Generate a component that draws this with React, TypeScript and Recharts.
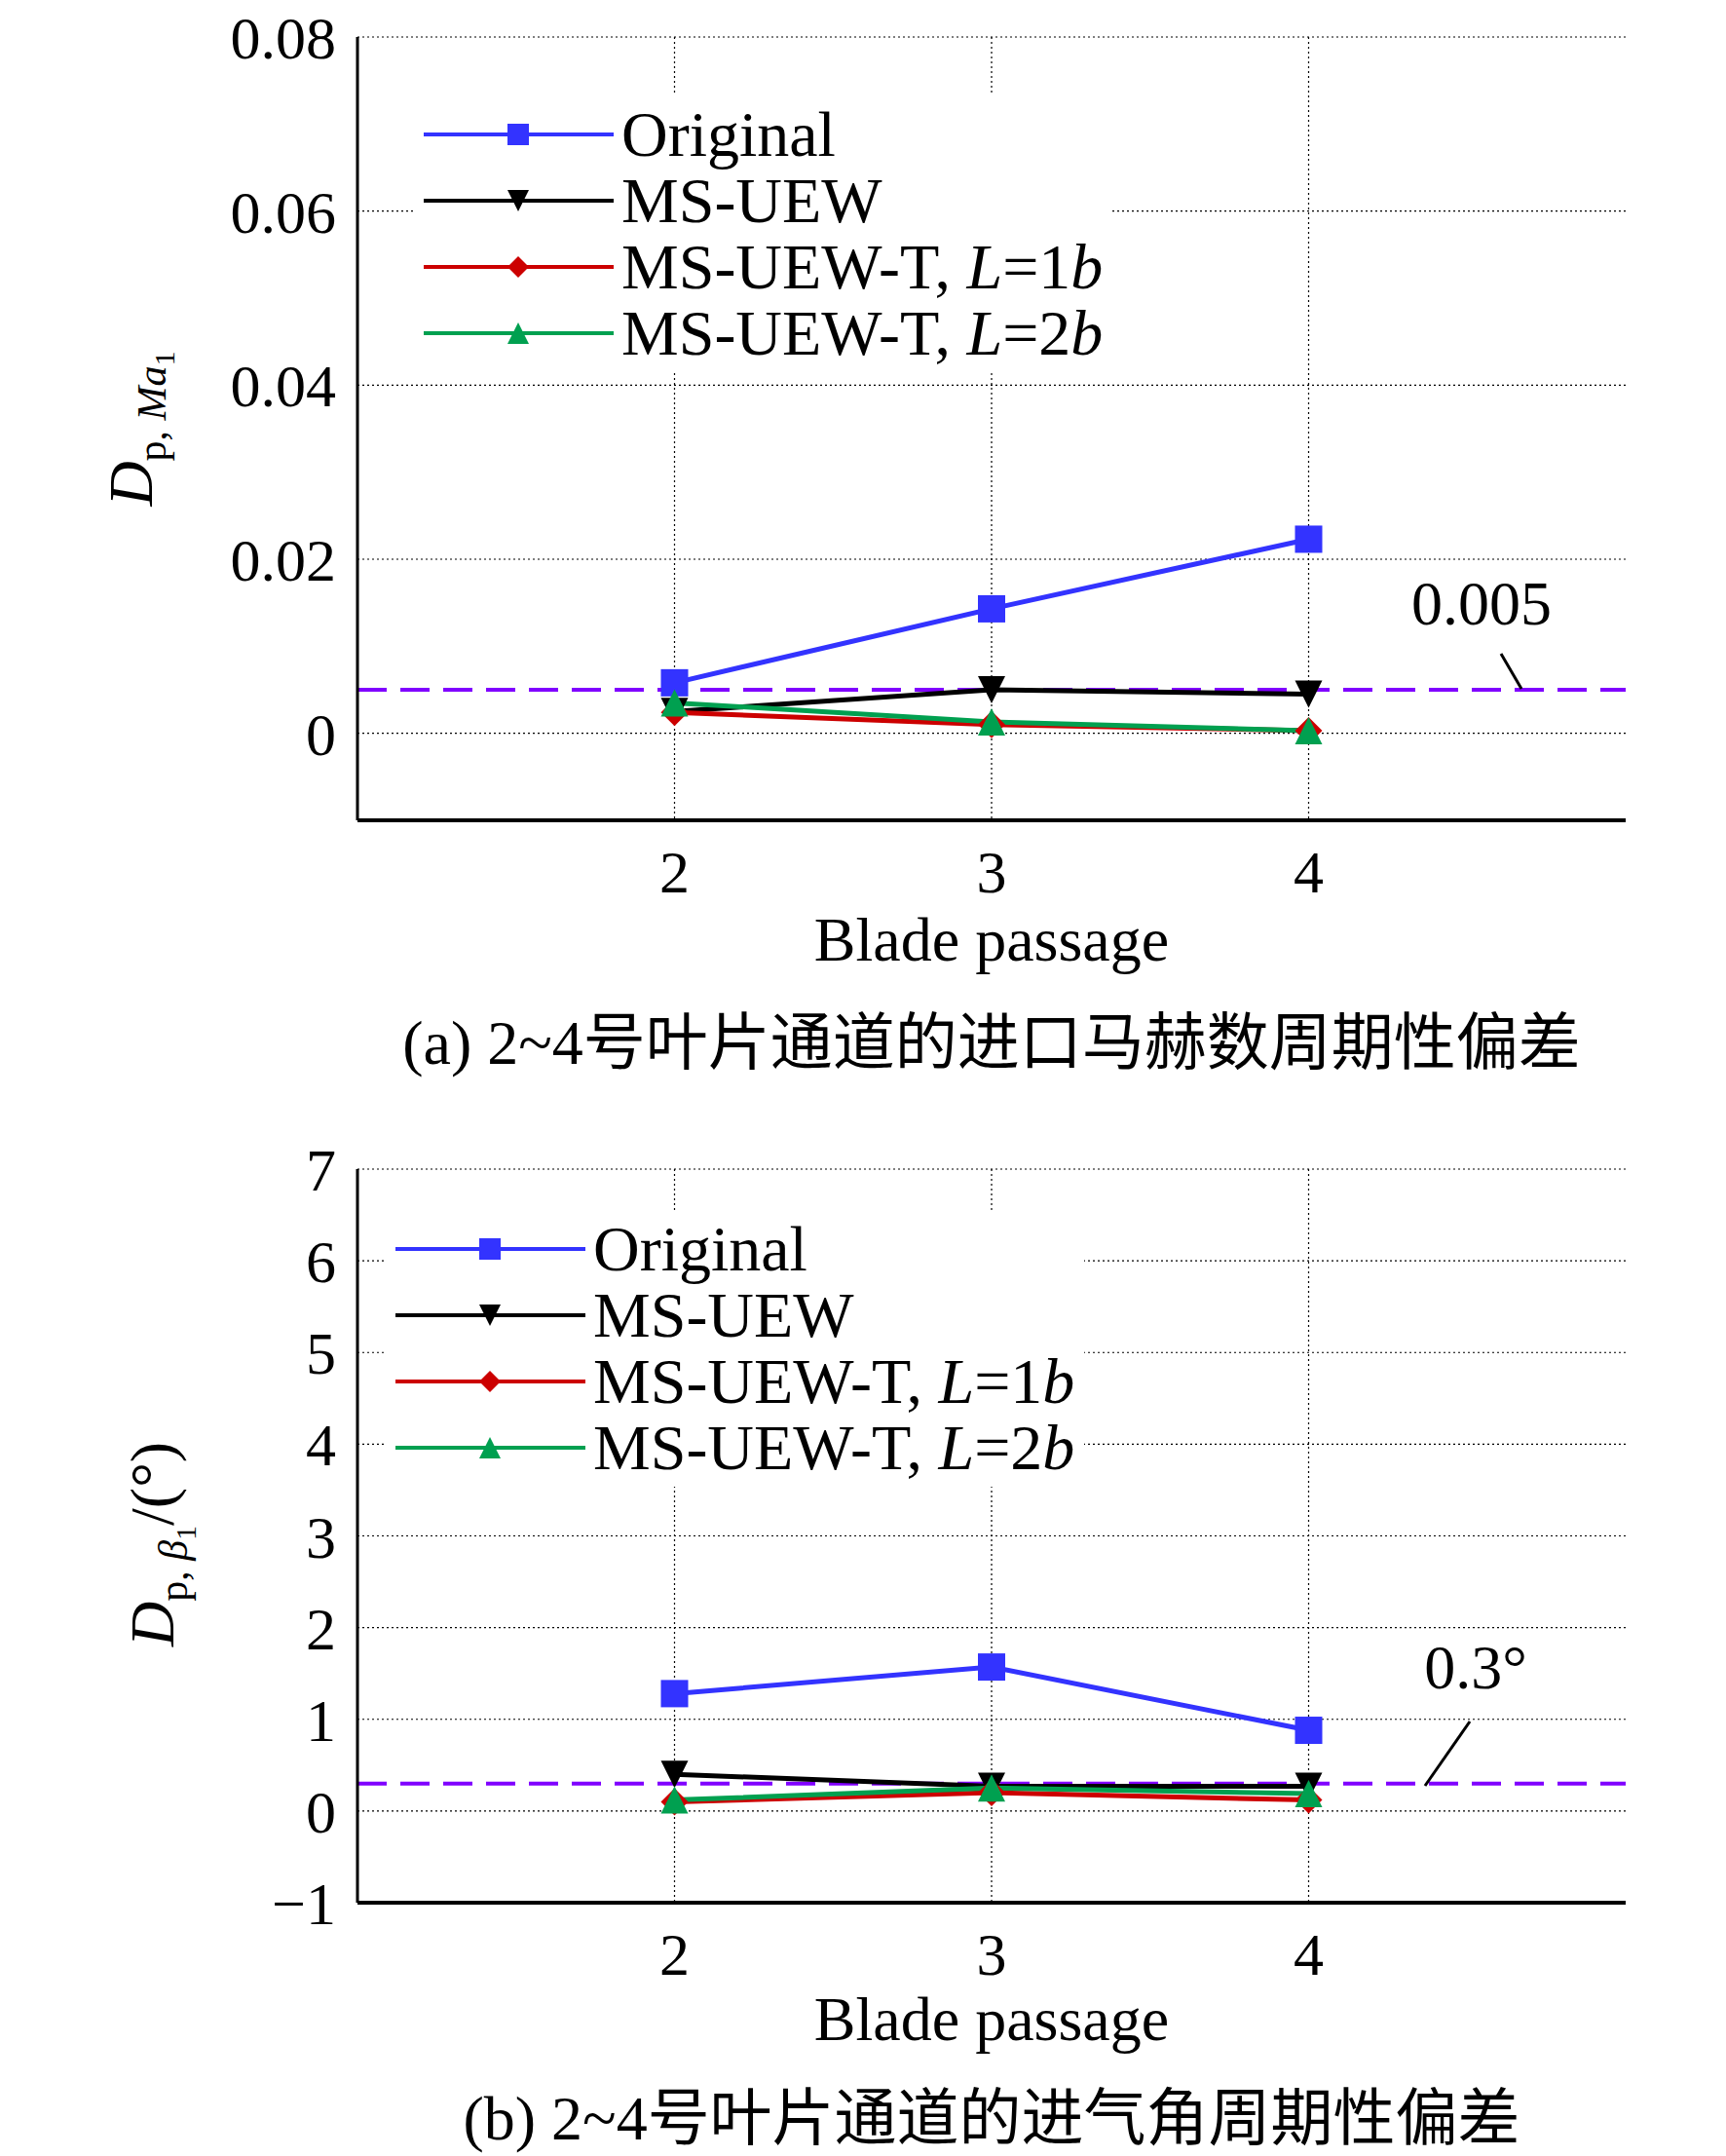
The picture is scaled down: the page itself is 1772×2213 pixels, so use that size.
import { LineChart, Line, XAxis, YAxis, CartesianGrid, ReferenceLine } from 'recharts'

const passages = [2, 3, 4]
// panel (a): inlet Mach number periodic deviation
const maOriginal = [0.0058, 0.0143, 0.0223]
const maUew = [0.0025, 0.005, 0.0045]
const maUewT1 = [0.0024, 0.001, 0.0003]
const maUewT2 = [0.0035, 0.0013, 0.0003]
const maTicks = [0, 0.02, 0.04, 0.06, 0.08]
// panel (b): inlet flow angle periodic deviation
const betaOriginal = [1.28, 1.57, 0.88]
const betaUew = [0.4, 0.27, 0.27]
const betaUewT1 = [0.1, 0.2, 0.12]
const betaUewT2 = [0.12, 0.25, 0.19]
const betaTicks = [-1, 0, 1, 2, 3, 4, 5, 6, 7]

const SERIF = '"Liberation Serif", "Noto Sans CJK SC", serif'
const BLUE = '#3333ff'
const RED = '#cc0000'
const GREEN = '#00a050'
const PURPLE = '#8000ff'

const series = [
  { key: 'orig', name: 'Original', color: BLUE, shape: 'square' },
  { key: 'uew', name: 'MS-UEW', color: '#000', shape: 'down' },
  { key: 't1', name: 'MS-UEW-T, ', L: '1', color: RED, shape: 'diamond' },
  { key: 't2', name: 'MS-UEW-T, ', L: '2', color: GREEN, shape: 'up' },
]

function Marker({ cx, cy, shape, color, s = 14 }: any) {
  if (cx == null || cy == null) return null
  if (shape === 'square') return <rect x={cx - s} y={cy - s} width={2 * s} height={2 * s} fill={color} />
  if (shape === 'down') return <polygon points={`${cx - s},${cy - s} ${cx + s},${cy - s} ${cx},${cy + s}`} fill={color} />
  if (shape === 'up') return <polygon points={`${cx - s},${cy + s} ${cx + s},${cy + s} ${cx},${cy - s}`} fill={color} />
  return <polygon points={`${cx},${cy - s} ${cx + s},${cy} ${cx},${cy + s} ${cx - s},${cy}`} fill={color} />
}

function build(a: number[], b: number[], c: number[], d: number[]) {
  return passages.map((p, i) => ({ x: p, orig: a[i], uew: b[i], t1: c[i], t2: d[i] }))
}

function Legend({ left, top }: { left: number; top: number }) {
  return (
    <div style={{ position: 'absolute', left, top, background: '#fff', padding: '6px 10px', fontFamily: SERIF, fontSize: 66 }}>
      {series.map((s) => (
        <div key={s.key} style={{ display: 'flex', alignItems: 'center', height: 68 }}>
          <svg width={195} height={40}>
            <line x1={0} y1={20} x2={195} y2={20} stroke={s.color} strokeWidth={4} />
            <Marker cx={97} cy={20} shape={s.shape} color={s.color} s={11} />
          </svg>
          <span style={{ marginLeft: 8, whiteSpace: 'nowrap' }}>
            {s.name}
            {s.L && (
              <>
                <i>L</i>={s.L}
                <i>b</i>
              </>
            )}
          </span>
        </div>
      ))}
    </div>
  )
}

function Panel({ data, ticks, domain, fmt, refY, top, height, marginTop, marginBottom }: any) {
  return (
    <div style={{ position: 'absolute', left: 0, top }}>
      <LineChart width={1772} height={height} data={data} margin={{ top: marginTop, right: 103, left: 247, bottom: marginBottom }}>
        <CartesianGrid stroke="#000" strokeDasharray="2 3" strokeWidth={1.2} verticalValues={passages} horizontalValues={ticks} />
        <XAxis
          dataKey="x"
          type="number"
          domain={[1, 5]}
          ticks={passages}
          tickLine={false}
          axisLine={{ stroke: '#000', strokeWidth: 4 }}
          tick={{ fontFamily: SERIF, fontSize: 62, fill: '#000', dy: 22 }}
          height={60}
        />
        <XAxis xAxisId="top" dataKey="x" type="number" domain={[1, 5]} orientation="top" tick={false} tickLine={false} axisLine={{ stroke: '#000', strokeWidth: 3 }} height={0} />
        <YAxis
          type="number"
          domain={domain}
          ticks={ticks}
          tickFormatter={fmt}
          tickLine={false}
          axisLine={{ stroke: '#000', strokeWidth: 3 }}
          tick={{ fontFamily: SERIF, fontSize: 62, fill: '#000', dx: -14 }}
          width={120}
        />
        <YAxis yAxisId="right" orientation="right" type="number" domain={domain} tick={false} tickLine={false} axisLine={{ stroke: '#000', strokeWidth: 3 }} width={0} />
        <ReferenceLine y={refY} stroke={PURPLE} strokeWidth={4} strokeDasharray="30 14" />
        {series.map((s) => (
          <Line
            key={s.key}
            dataKey={s.key}
            stroke={s.color}
            strokeWidth={5}
            isAnimationActive={false}
            dot={(p: any) => <Marker key={p.index + s.key} cx={p.cx} cy={p.cy} shape={s.shape} color={s.color} />}
          />
        ))}
      </LineChart>
    </div>
  )
}

const txt = (left: number, top: number, size: number, content: any, extra: any = {}) => (
  <div style={{ position: 'absolute', left, top, fontFamily: SERIF, fontSize: size, whiteSpace: 'nowrap', transform: 'translate(-50%, -50%)', ...extra }}>
    {content}
  </div>
)

export default function App() {
  return (
    <div style={{ position: 'absolute', left: 0, top: 0, width: 1772, height: 2213, background: '#fff', overflow: 'hidden' }}>
      <Panel data={build(maOriginal, maUew, maUewT1, maUewT2)} ticks={maTicks} domain={[-0.01, 0.08]} fmt={(v: number) => (v === 0 ? '0' : v.toFixed(2))} refY={0.005} top={0} height={1100} marginTop={38} marginBottom={198} />
      <Panel data={build(betaOriginal, betaUew, betaUewT1, betaUewT2)} ticks={betaTicks} domain={[-1, 7]} fmt={(v: number) => (v < 0 ? '\u2212' + Math.abs(v) : String(v))} refY={0.3} top={1100} height={1113} marginTop={100} marginBottom={200} />

      <Legend left={425} top={98} />
      <Legend left={396} top={1242} />

      {txt(1521, 620, 64, '0.005')}
      {txt(1515, 1712, 64, '0.3°')}
      <svg style={{ position: 'absolute', left: 0, top: 0 }} width={1772} height={2213}>
        <line x1={1541} y1={671} x2={1562} y2={707} stroke="#000" strokeWidth={3} />
        <line x1={1509} y1={1767} x2={1463} y2={1833} stroke="#000" strokeWidth={3} />
      </svg>

      {txt(142, 440, 64, (<span><i>D</i><sub style={{ fontSize: 42 }}>p, <i>Ma</i><sub style={{ fontSize: 30 }}>1</sub></sub></span>), { transform: 'translate(-50%, -50%) rotate(-90deg)' })}
      {txt(164, 1585, 64, (<span><i>D</i><sub style={{ fontSize: 42 }}>p, <i>β</i><sub style={{ fontSize: 30 }}>1</sub></sub>/(°)</span>), { transform: 'translate(-50%, -50%) rotate(-90deg)' })}

      {txt(1018, 965, 64, 'Blade passage')}
      {txt(1018, 1064, 64, '(a) 2~4号叶片通道的进口马赫数周期性偏差')}
      {txt(1018, 2073, 64, 'Blade passage')}
      {txt(1018, 2168, 64, '(b) 2~4号叶片通道的进气角周期性偏差')}
    </div>
  )
}
